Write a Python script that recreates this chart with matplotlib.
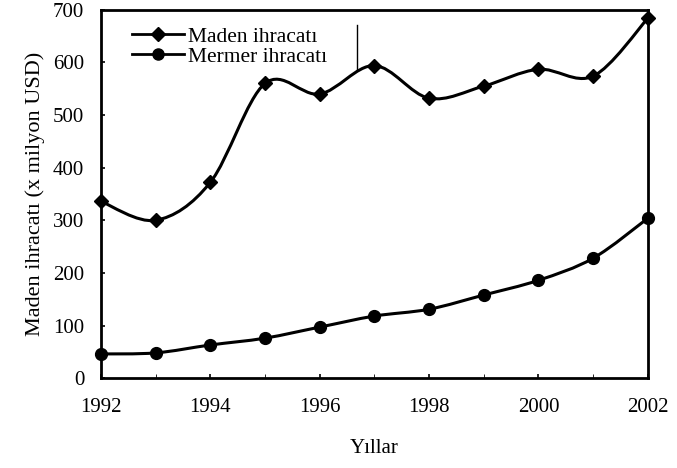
import matplotlib
matplotlib.use("Agg")
import matplotlib.pyplot as plt
import numpy as np
from matplotlib.path import Path
from matplotlib.patches import PathPatch
from matplotlib.lines import Line2D

years = [1992, 1993, 1994, 1995, 1996, 1997, 1998, 1999, 2000, 2001, 2002]
maden = [336, 300, 372, 560, 540, 594, 532, 555, 587, 574, 684]
mermer = [46, 48, 63, 76, 97, 118, 131, 158, 186, 228, 304]
xticks = [1992, 1994, 1996, 1998, 2000, 2002]
yticks = [0, 100, 200, 300, 400, 500, 600, 700]

plt.rcParams['font.family'] = ['Liberation Serif', 'DejaVu Serif']


def smooth_path(x, y):
    # excel style smoothed line: cubic bezier through every point
    x = np.asarray(x, float)
    y = np.asarray(y, float)
    px = np.concatenate([[x[0]], x, [x[-1]]])
    py = np.concatenate([[y[0]], y, [y[-1]]])
    verts = [(x[0], y[0])]
    codes = [Path.MOVETO]
    for i in range(1, len(px) - 2):
        c1 = (px[i] + (px[i + 1] - px[i - 1]) / 6, py[i] + (py[i + 1] - py[i - 1]) / 6)
        c2 = (px[i + 1] - (px[i + 2] - px[i]) / 6, py[i + 1] - (py[i + 2] - py[i]) / 6)
        verts += [c1, c2, (px[i + 1], py[i + 1])]
        codes += [Path.CURVE4] * 3
    return Path(verts, codes)


fig = plt.figure(figsize=(6.77, 4.68), dpi=100)
ax = fig.add_axes([0.149, 0.192, 0.808, 0.787])

for vals, mk, ms in [(maden, 'D', 7), (mermer, 'o', 8.5)]:
    ax.add_patch(PathPatch(smooth_path(years, vals), fill=False, lw=2.2, ec='black', clip_on=False))
    ax.plot(years, vals, ls='none', marker=mk, ms=ms, color='black', clip_on=False)

ax.set_xlim(1992, 2002)
ax.set_ylim(0, 700)
ax.set_xticks(xticks)
ax.set_yticks(yticks)
ax.set_xticks(years, minor=True)
ax.tick_params(direction='in', length=3, width=1.2, labelsize=15, pad=14)
ax.tick_params(axis='y', pad=12)
ax.tick_params(axis='x', which='minor', direction='in', length=3)
for s in ax.spines.values():
    s.set_linewidth(2)

ax.set_xlabel('Yıllar', fontsize=15, labelpad=16)
ax.set_ylabel('Maden ihracatı (x milyon USD)', fontsize=16, labelpad=6)

handles = [Line2D([], [], color='black', lw=2, marker='D', ms=7),
           Line2D([], [], color='black', lw=2, marker='o', ms=8)]
leg = ax.legend(handles, ['Maden ihracatı', 'Mermer ihracatı'], loc='upper left',
                bbox_to_anchor=(0.03, 0.995), frameon=False, fontsize=15.5,
                handlelength=2.4, handletextpad=0.2, labelspacing=0.0, borderpad=0.2)
ax.plot([0.468, 0.468], [0.837, 0.959], color='black', lw=1, transform=ax.transAxes)

fig.savefig('out.png', dpi=100)
